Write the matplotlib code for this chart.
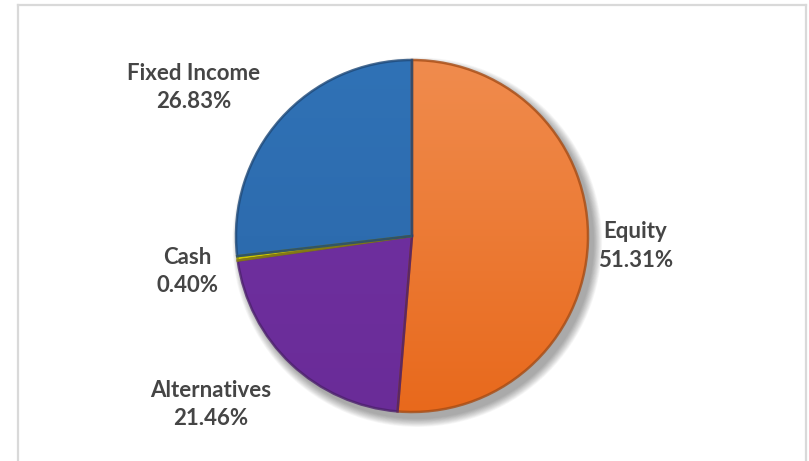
import numpy as np
import matplotlib.pyplot as plt
from matplotlib.patches import Circle
from matplotlib.colors import to_rgb, LinearSegmentedColormap
from matplotlib.lines import Line2D

# Data ------------------------------------------------------------------
categorias = ['Equity', 'Alternatives', 'Cash', 'Fixed Income']
porcentajes = [51.31, 21.46, 0.40, 26.83]
colores_top = ['#F08C4E', '#7232A4', '#D8D400', '#3072B6']
colores_bot = ['#E8691C', '#6A2C98', '#C4C000', '#2A66A8']
# distancia y giro de cada etiqueta respecto al centro de su porcion
dist_etiqueta = [1.27, 1.49, 1.29, 1.50]
giro_etiqueta = [-0.2, -6.7, 1.7, 7.5]

# Figure ----------------------------------------------------------------
W, H = 809, 461
fig = plt.figure(figsize=(W / 100, H / 100), dpi=100)
ax = fig.add_axes([0, 0, 1, 1])
R = 176.0
cx, cy = 412, 236

# frame (only left, top, right)
gris = '#D9D9D9'
fig.add_artist(Line2D([18 / W, 18 / W], [0, 1 - 5 / H], color=gris, lw=1.6))
fig.add_artist(Line2D([18 / W, 806 / W], [1 - 5 / H, 1 - 5 / H], color=gris, lw=1.6))
fig.add_artist(Line2D([806 / W, 806 / W], [0, 1 - 5 / H], color=gris, lw=1.6))

# soft shadow
for k in range(12):
    ax.add_patch(Circle((0.03, -0.035), 1.0 + 0.05 * (12 - k) / 12,
                        color='black', alpha=0.03, lw=0, zorder=1))

wedges, _ = ax.pie(porcentajes, startangle=90, counterclock=False,
                   radius=1.0, center=(0, 0), frame=False,
                   colors=colores_top,
                   wedgeprops=dict(linewidth=0, zorder=2))
ax.set_xlim(-cx / R, (W - cx) / R)
ax.set_ylim(-(H - cy) / R, cy / R)
ax.set_aspect('equal')
ax.axis('off')

grad = np.linspace(0, 1, 256).reshape(-1, 1)
for w, ct, cb in zip(wedges, colores_top, colores_bot):
    cmap = LinearSegmentedColormap.from_list('g', [cb, ct])
    im = ax.imshow(grad, extent=(-1, 1, -1, 1), origin='lower',
                   cmap=cmap, aspect='auto', zorder=3)
    im.set_clip_path(w)
    # bevel edge
    oscuro = tuple(np.array(to_rgb(cb)) * 0.72)
    w.set_edgecolor(oscuro + (0.8,))
    w.set_linewidth(1.8)
    w.set_facecolor('none')
    w.set_zorder(4)

# labels ------------------------------------------------------------------
for w, cat, p, d, g in zip(wedges, categorias, porcentajes, dist_etiqueta, giro_etiqueta):
    ang = np.deg2rad((w.theta1 + w.theta2) / 2 + g)
    ax.text(d * np.cos(ang), d * np.sin(ang), f'{cat}\n{p:.2f}%',
            ha='center', va='center', fontsize=16, fontweight='bold',
            family='Lato', color='#454545', linespacing=1.45, zorder=5)

fig.savefig('out.png', dpi=100)
